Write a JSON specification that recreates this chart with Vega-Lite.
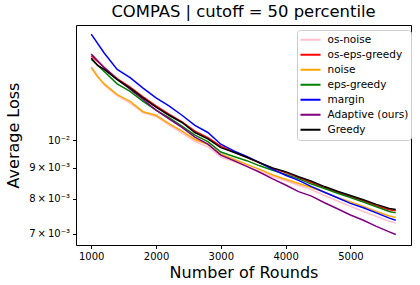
{
  "$schema": "https://vega.github.io/schema/vega-lite/v6.json",
  "width": 335,
  "height": 220,
  "autosize": {"type": "none"},
  "padding": {"left": 76, "top": 25, "right": 9, "bottom": 40},
  "background": "white",
  "config": {
    "font": "DejaVu Sans",
    "view": {"stroke": "black", "strokeWidth": 1},
    "axis": {"domain": false, "grid": false, "tickColor": "black", "tickSize": 3.5, "labelColor": "black", "labelFont": "DejaVu Sans", "labelFontSize": 10, "titleFont": "DejaVu Sans", "titleFontWeight": "normal", "titleColor": "black", "labelPadding": 3}
  },
  "title": {"text": "COMPAS | cutoff = 50 percentile", "fontSize": 16.4, "fontWeight": "normal", "font": "DejaVu Sans", "color": "black", "offset": 5, "anchor": "middle"},
  "data": {"values": [
    {"r":1000,"s":"os-noise","v":0.01325},{"r":1200,"s":"os-noise","v":0.01235},{"r":1400,"s":"os-noise","v":0.01185},{"r":1600,"s":"os-noise","v":0.01152},{"r":1800,"s":"os-noise","v":0.01110},{"r":2000,"s":"os-noise","v":0.01095},{"r":2200,"s":"os-noise","v":0.01060},{"r":2400,"s":"os-noise","v":0.01028},{"r":2600,"s":"os-noise","v":0.00995},{"r":2800,"s":"os-noise","v":0.00975},{"r":3000,"s":"os-noise","v":0.00938},{"r":3200,"s":"os-noise","v":0.00922},{"r":3400,"s":"os-noise","v":0.00905},{"r":3600,"s":"os-noise","v":0.00888},{"r":3800,"s":"os-noise","v":0.00870},{"r":4000,"s":"os-noise","v":0.00857},{"r":4200,"s":"os-noise","v":0.00842},{"r":4400,"s":"os-noise","v":0.00828},{"r":4600,"s":"os-noise","v":0.00810},{"r":4800,"s":"os-noise","v":0.00793},{"r":5000,"s":"os-noise","v":0.00777},{"r":5200,"s":"os-noise","v":0.00762},{"r":5400,"s":"os-noise","v":0.00748},{"r":5600,"s":"os-noise","v":0.00734},{"r":5700,"s":"os-noise","v":0.00729},
    {"r":1000,"s":"os-eps-greedy","v":0.01380},{"r":1200,"s":"os-eps-greedy","v":0.01320},{"r":1400,"s":"os-eps-greedy","v":0.01265},{"r":1600,"s":"os-eps-greedy","v":0.01225},{"r":1800,"s":"os-eps-greedy","v":0.01180},{"r":2000,"s":"os-eps-greedy","v":0.01140},{"r":2200,"s":"os-eps-greedy","v":0.01105},{"r":2400,"s":"os-eps-greedy","v":0.01073},{"r":2600,"s":"os-eps-greedy","v":0.01035},{"r":2800,"s":"os-eps-greedy","v":0.01010},{"r":3000,"s":"os-eps-greedy","v":0.00978},{"r":3200,"s":"os-eps-greedy","v":0.00956},{"r":3400,"s":"os-eps-greedy","v":0.00937},{"r":3600,"s":"os-eps-greedy","v":0.00917},{"r":3800,"s":"os-eps-greedy","v":0.00898},{"r":4000,"s":"os-eps-greedy","v":0.00884},{"r":4200,"s":"os-eps-greedy","v":0.00867},{"r":4400,"s":"os-eps-greedy","v":0.00851},{"r":4600,"s":"os-eps-greedy","v":0.00835},{"r":4800,"s":"os-eps-greedy","v":0.00820},{"r":5000,"s":"os-eps-greedy","v":0.00807},{"r":5200,"s":"os-eps-greedy","v":0.00794},{"r":5400,"s":"os-eps-greedy","v":0.00779},{"r":5600,"s":"os-eps-greedy","v":0.00767},{"r":5700,"s":"os-eps-greedy","v":0.00764},
    {"r":1000,"s":"noise","v":0.01319},{"r":1100,"s":"noise","v":0.01273},{"r":1200,"s":"noise","v":0.01240},{"r":1400,"s":"noise","v":0.01190},{"r":1600,"s":"noise","v":0.01160},{"r":1800,"s":"noise","v":0.01115},{"r":2000,"s":"noise","v":0.01100},{"r":2200,"s":"noise","v":0.01065},{"r":2400,"s":"noise","v":0.01035},{"r":2600,"s":"noise","v":0.01003},{"r":2800,"s":"noise","v":0.00985},{"r":3000,"s":"noise","v":0.00948},{"r":3200,"s":"noise","v":0.00930},{"r":3400,"s":"noise","v":0.00912},{"r":3600,"s":"noise","v":0.00895},{"r":3800,"s":"noise","v":0.00876},{"r":4000,"s":"noise","v":0.00862},{"r":4200,"s":"noise","v":0.00848},{"r":4400,"s":"noise","v":0.00835},{"r":4600,"s":"noise","v":0.00820},{"r":4800,"s":"noise","v":0.00804},{"r":5000,"s":"noise","v":0.00790},{"r":5200,"s":"noise","v":0.00777},{"r":5400,"s":"noise","v":0.00762},{"r":5600,"s":"noise","v":0.00749},{"r":5700,"s":"noise","v":0.00745},
    {"r":1000,"s":"eps-greedy","v":0.01362},{"r":1200,"s":"eps-greedy","v":0.01300},{"r":1400,"s":"eps-greedy","v":0.01240},{"r":1600,"s":"eps-greedy","v":0.01205},{"r":1800,"s":"eps-greedy","v":0.01160},{"r":2000,"s":"eps-greedy","v":0.01122},{"r":2200,"s":"eps-greedy","v":0.01090},{"r":2400,"s":"eps-greedy","v":0.01055},{"r":2600,"s":"eps-greedy","v":0.01020},{"r":2800,"s":"eps-greedy","v":0.00995},{"r":3000,"s":"eps-greedy","v":0.00956},{"r":3200,"s":"eps-greedy","v":0.00940},{"r":3400,"s":"eps-greedy","v":0.00925},{"r":3600,"s":"eps-greedy","v":0.00907},{"r":3800,"s":"eps-greedy","v":0.00892},{"r":4000,"s":"eps-greedy","v":0.00878},{"r":4200,"s":"eps-greedy","v":0.00863},{"r":4400,"s":"eps-greedy","v":0.00846},{"r":4600,"s":"eps-greedy","v":0.00832},{"r":4800,"s":"eps-greedy","v":0.00817},{"r":5000,"s":"eps-greedy","v":0.00804},{"r":5200,"s":"eps-greedy","v":0.00790},{"r":5400,"s":"eps-greedy","v":0.00776},{"r":5600,"s":"eps-greedy","v":0.00762},{"r":5700,"s":"eps-greedy","v":0.00758},
    {"r":1000,"s":"margin","v":0.01499},{"r":1200,"s":"margin","v":0.01395},{"r":1400,"s":"margin","v":0.01310},{"r":1600,"s":"margin","v":0.01270},{"r":1800,"s":"margin","v":0.01220},{"r":2000,"s":"margin","v":0.01175},{"r":2200,"s":"margin","v":0.01140},{"r":2400,"s":"margin","v":0.01100},{"r":2600,"s":"margin","v":0.01058},{"r":2800,"s":"margin","v":0.01030},{"r":3000,"s":"margin","v":0.00985},{"r":3200,"s":"margin","v":0.00960},{"r":3400,"s":"margin","v":0.00940},{"r":3600,"s":"margin","v":0.00918},{"r":3800,"s":"margin","v":0.00895},{"r":4000,"s":"margin","v":0.00875},{"r":4200,"s":"margin","v":0.00858},{"r":4400,"s":"margin","v":0.00838},{"r":4600,"s":"margin","v":0.00820},{"r":4800,"s":"margin","v":0.00803},{"r":5000,"s":"margin","v":0.00786},{"r":5200,"s":"margin","v":0.00773},{"r":5400,"s":"margin","v":0.00758},{"r":5600,"s":"margin","v":0.00743},{"r":5700,"s":"margin","v":0.00737},
    {"r":1000,"s":"Adaptive (ours)","v":0.01389},{"r":1200,"s":"Adaptive (ours)","v":0.01320},{"r":1400,"s":"Adaptive (ours)","v":0.01262},{"r":1600,"s":"Adaptive (ours)","v":0.01215},{"r":1800,"s":"Adaptive (ours)","v":0.01168},{"r":2000,"s":"Adaptive (ours)","v":0.01122},{"r":2200,"s":"Adaptive (ours)","v":0.01085},{"r":2400,"s":"Adaptive (ours)","v":0.01050},{"r":2600,"s":"Adaptive (ours)","v":0.01012},{"r":2800,"s":"Adaptive (ours)","v":0.00985},{"r":3000,"s":"Adaptive (ours)","v":0.00945},{"r":3200,"s":"Adaptive (ours)","v":0.00925},{"r":3400,"s":"Adaptive (ours)","v":0.00905},{"r":3600,"s":"Adaptive (ours)","v":0.00885},{"r":3800,"s":"Adaptive (ours)","v":0.00863},{"r":4000,"s":"Adaptive (ours)","v":0.00843},{"r":4200,"s":"Adaptive (ours)","v":0.00822},{"r":4400,"s":"Adaptive (ours)","v":0.00808},{"r":4600,"s":"Adaptive (ours)","v":0.00788},{"r":4800,"s":"Adaptive (ours)","v":0.00770},{"r":5000,"s":"Adaptive (ours)","v":0.00752},{"r":5200,"s":"Adaptive (ours)","v":0.00737},{"r":5400,"s":"Adaptive (ours)","v":0.00720},{"r":5600,"s":"Adaptive (ours)","v":0.00705},{"r":5700,"s":"Adaptive (ours)","v":0.00698},
    {"r":1000,"s":"Greedy","v":0.01368},{"r":1100,"s":"Greedy","v":0.01330},{"r":1200,"s":"Greedy","v":0.01310},{"r":1400,"s":"Greedy","v":0.01260},{"r":1600,"s":"Greedy","v":0.01220},{"r":1800,"s":"Greedy","v":0.01175},{"r":2000,"s":"Greedy","v":0.01135},{"r":2200,"s":"Greedy","v":0.01100},{"r":2400,"s":"Greedy","v":0.01070},{"r":2600,"s":"Greedy","v":0.01030},{"r":2800,"s":"Greedy","v":0.01005},{"r":3000,"s":"Greedy","v":0.00972},{"r":3200,"s":"Greedy","v":0.00955},{"r":3400,"s":"Greedy","v":0.00937},{"r":3600,"s":"Greedy","v":0.00918},{"r":3800,"s":"Greedy","v":0.00900},{"r":4000,"s":"Greedy","v":0.00887},{"r":4200,"s":"Greedy","v":0.00870},{"r":4400,"s":"Greedy","v":0.00855},{"r":4600,"s":"Greedy","v":0.00838},{"r":4800,"s":"Greedy","v":0.00823},{"r":5000,"s":"Greedy","v":0.00810},{"r":5200,"s":"Greedy","v":0.00797},{"r":5400,"s":"Greedy","v":0.00783},{"r":5600,"s":"Greedy","v":0.00771},{"r":5700,"s":"Greedy","v":0.00768}
  ]},
  "mark": {"type": "line", "strokeWidth": 1.5, "clip": true},
  "encoding": {
    "x": {"field": "r", "type": "quantitative", "scale": {"domain": [765, 5935], "nice": false, "zero": false},
      "axis": {"values": [1000, 2000, 3000, 4000, 5000], "format": "d", "title": "Number of Rounds", "titleFontSize": 16, "titlePadding": 3}},
    "y": {"field": "v", "type": "quantitative", "scale": {"type": "log", "domain": [0.006706, 0.01552], "nice": false},
      "axis": {"values": [0.007, 0.008, 0.009, 0.01], "labelExpr": "datum.value > 0.0095 ? '10⁻²' : format(datum.value * 1000, '.0f') + '\u2009×\u200910⁻³'", "title": "Average Loss", "titleFontSize": 16, "titlePadding": 7}},
    "color": {"field": "s", "type": "nominal",
      "scale": {"domain": ["os-noise", "os-eps-greedy", "noise", "eps-greedy", "margin", "Adaptive (ours)", "Greedy"], "range": ["#ffc0cb", "#ff0000", "#ffa500", "#008000", "#0000ff", "#800080", "#000000"]},
      "legend": {"title": null, "orient": "none", "legendX": 221, "legendY": 5, "symbolType": "stroke", "symbolSize": 400, "symbolStrokeWidth": 2, "labelFontSize": 10.5, "labelColor": "black", "strokeColor": "#cccccc", "fillColor": "white", "padding": 2.5, "cornerRadius": 3, "rowPadding": 0, "clipHeight": 14.5, "labelOffset": 6}}
  }
}
